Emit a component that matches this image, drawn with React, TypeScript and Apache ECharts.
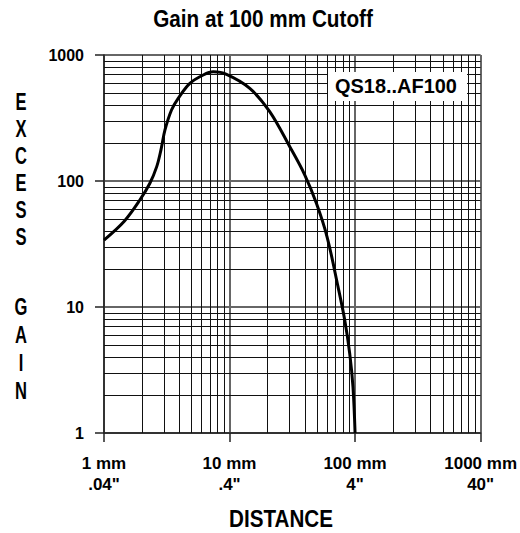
import React, { useEffect, useRef } from "react";
import * as echarts from "echarts";

const distanceMm = [1, 1.45, 1.93, 2.32, 2.63, 2.84, 3.06, 3.45, 3.9, 4.83, 6.17, 7.41, 9.46, 14.5, 20.9, 30.2, 39.7, 49.2, 59.8, 73.1, 82.7, 90.6, 96.2, 100];
const excessGain = [34, 48, 70.7, 96, 130, 176, 254, 366, 453, 596, 694, 735, 703, 544, 355, 187, 112, 66.5, 36.1, 14.5, 7.88, 4.29, 2.33, 1];

const xTickMm = ["1 mm", "10 mm", "100 mm", "1000 mm"];
const xTickInch = ['.04"', '.4"', '4"', '40"'];
const yTickLabels = ["1", "10", "100", "1000"];
const decades = [1, 10, 100];
const minorSteps = [2, 3, 4, 5, 6, 7, 8, 9];

const titleText = "Gain at 100 mm Cutoff";
const xAxisTitle = "DISTANCE";
const yAxisTitleTop = ["E", "X", "C", "E", "S", "S"];
const yAxisTitleBottom = ["G", "A", "I", "N"];
const modelLabel = "QS18..AF100";

const BOLD = "'Liberation Sans', Arial, sans-serif";

export default function App() {
  const ref = useRef<HTMLDivElement>(null);
  useEffect(() => {
    if (!ref.current) return;
    const chart = echarts.init(ref.current, null, { renderer: "svg" });
    const minorVals: number[] = [];
    decades.forEach((d) => minorSteps.forEach((s) => minorVals.push(d * s)));
    const markData: any[] = [];
    minorVals.forEach((v) => markData.push({ xAxis: v }));
    minorVals.forEach((v) => markData.push({ yAxis: v }));

    const letters: any[] = [];
    yAxisTitleTop.forEach((ch, i) =>
      letters.push({
        type: "text",
        x: 21,
        y: 102 + i * 27,
        scaleX: 0.72,
        style: { text: ch, fontSize: 23, fontWeight: "bold", fontFamily: BOLD, fill: "#000", textAlign: "center", textVerticalAlign: "middle" },
      })
    );
    yAxisTitleBottom.forEach((ch, i) =>
      letters.push({
        type: "text",
        x: 21,
        y: 307 + i * 28,
        scaleX: 0.72,
        style: { text: ch, fontSize: 23, fontWeight: "bold", fontFamily: BOLD, fill: "#000", textAlign: "center", textVerticalAlign: "middle" },
      })
    );

    chart.setOption({
      animation: false,
      backgroundColor: "#fff",
      grid: { left: 104, right: 39, top: 55, bottom: 100 },
      xAxis: {
        type: "log",
        logBase: 10,
        min: 1,
        max: 1000,
        axisLine: { show: true, lineStyle: { color: "#222", width: 1.5 } },
        axisTick: { show: true, length: 9, lineStyle: { color: "#222", width: 1.5 } },
        splitLine: { show: true, lineStyle: { color: "#666", width: 2 } },
        axisLabel: {
          margin: 20,
          fontSize: 17,
          fontWeight: "bold",
          fontFamily: BOLD,
          color: "#000",
          lineHeight: 21,
          showMinLabel: true,
          showMaxLabel: true,
          formatter: (v: number) => {
            const i = Math.round(Math.log10(v));
            return xTickMm[i] + "\n" + xTickInch[i];
          },
        },
      },
      yAxis: {
        type: "log",
        logBase: 10,
        min: 1,
        max: 1000,
        axisLine: { show: true, lineStyle: { color: "#222", width: 1.5 } },
        axisTick: { show: true, length: 9, lineStyle: { color: "#222", width: 1.5 } },
        splitLine: { show: true, lineStyle: { color: "#666", width: 2 } },
        axisLabel: {
          margin: 20,
          fontSize: 16,
          fontWeight: "bold",
          fontFamily: BOLD,
          color: "#000",
          showMinLabel: true,
          showMaxLabel: true,
          formatter: (v: number) => yTickLabels[Math.round(Math.log10(v))],
        },
      },
      series: [
        {
          type: "line",
          data: distanceMm.map((x, i) => [x, excessGain[i]]),
          smooth: 0.35,
          symbol: "none",
          lineStyle: { color: "#000", width: 3 },
          z: 5,
          markLine: {
            silent: true,
            symbol: ["none", "none"],
            label: { show: false },
            lineStyle: { color: "#111", width: 1, type: "solid" },
            data: markData,
            z: 1,
          },
        },
      ],
      graphic: [
        {
          type: "text",
          x: 263,
          y: 19,
          scaleX: 0.9,
          style: { text: titleText, fontSize: 23, fontWeight: "bold", fontFamily: BOLD, fill: "#000", textAlign: "center", textVerticalAlign: "middle" },
        },
        {
          type: "text",
          x: 281,
          y: 519,
          scaleX: 0.86,
          style: { text: xAxisTitle, fontSize: 24, fontWeight: "bold", fontFamily: BOLD, fill: "#000", textAlign: "center", textVerticalAlign: "middle" },
        },
        {
          type: "rect",
          z: 10,
          shape: { x: 328, y: 72, width: 139, height: 29 },
          style: { fill: "#fff" },
        },
        {
          type: "text",
          z: 11,
          x: 396,
          y: 85,
          scaleX: 0.95,
          style: { text: modelLabel, fontSize: 21, fontWeight: "bold", fontFamily: BOLD, fill: "#000", textAlign: "center", textVerticalAlign: "middle" },
        },
        ...letters,
      ],
    });
    return () => chart.dispose();
  }, []);
  return <div ref={ref} style={{ width: 520, height: 533, position: "absolute", left: 0, top: 0 }} />;
}
